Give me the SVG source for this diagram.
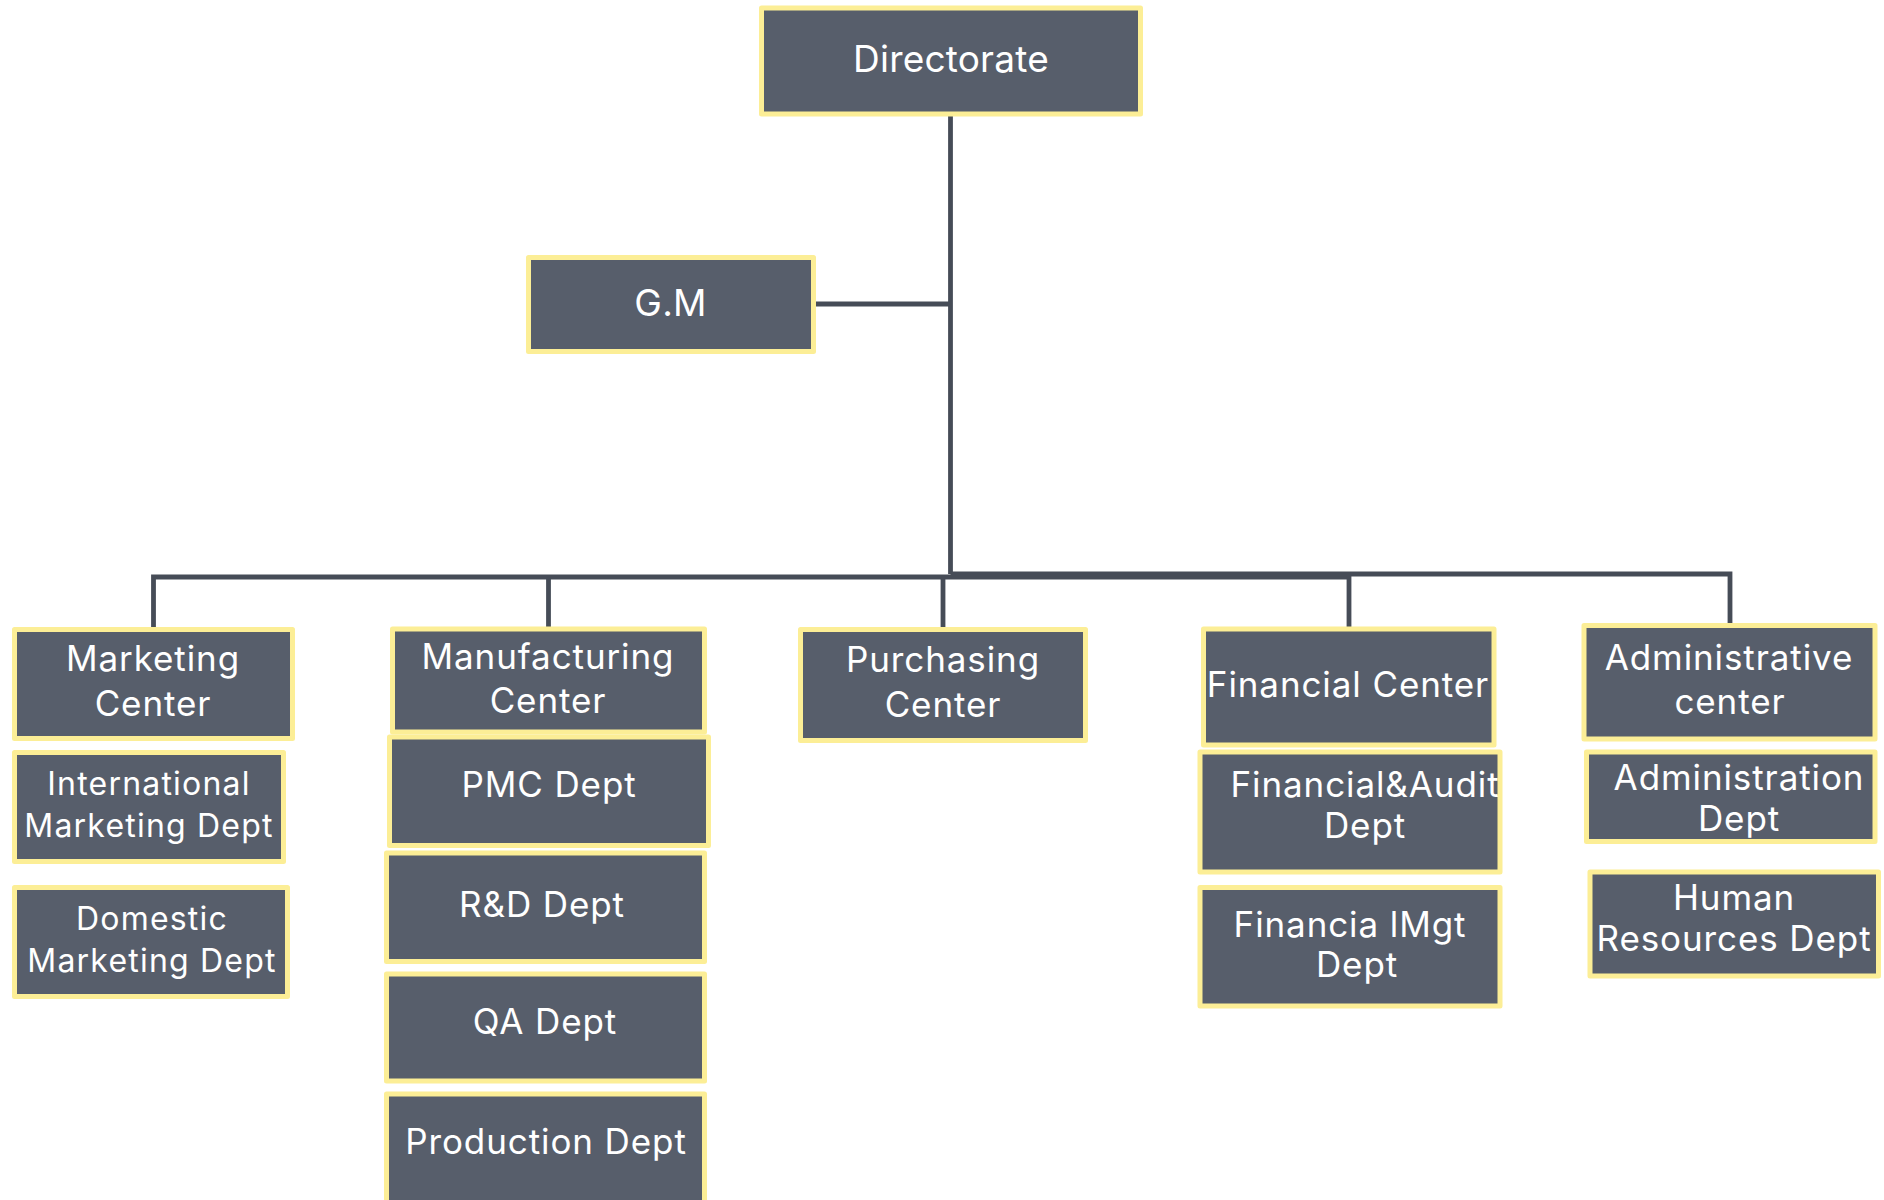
<svg xmlns="http://www.w3.org/2000/svg" width="1884" height="1200" viewBox="0 0 1884 1200">
<style>
.box{fill:#575E6B;stroke:#FCEE96;stroke-width:5;stroke-linejoin:round}
.lbl{fill:#FFFFFF;font-family:Inter,"Liberation Sans",sans-serif;font-size:35px;letter-spacing:0.9px;text-anchor:middle}
.big{font-size:37px;letter-spacing:0.2px}
.sm{font-size:32px;letter-spacing:1.2px}
.ln{fill:none;stroke:#464C57;stroke-width:4.8}
</style>
<rect width="1884" height="1200" fill="#FFFFFF"/>
<g id="connectors">
<path class="ln" d="M950.5 114 V574"/>
<path class="ln" d="M816 304 H950.5"/>
<path class="ln" d="M153.5 627 V577 H1349"/>
<path class="ln" d="M950.5 574 H1730 V624"/>
<path class="ln" d="M548.5 577 V627"/>
<path class="ln" d="M943 577 V627"/>
<path class="ln" d="M1349 574 V627"/>
</g>
<g id="directorate"><rect class="box" x="761.5" y="8" width="379" height="106"/><text class="lbl big" x="951" y="72">Directorate</text></g>
<g id="gm"><rect class="box" x="528.5" y="257.5" width="285" height="94"/><text class="lbl big" x="670.5" y="316">G.M</text></g>
<g id="marketing-center"><rect class="box" x="14.5" y="629.5" width="278" height="109"/><text class="lbl" x="153" y="671">Marketing</text><text class="lbl" x="153" y="716">Center</text></g>
<g id="intl-marketing"><rect class="box" x="14.5" y="752.5" width="269" height="109"/><text class="lbl sm" x="149" y="795">International</text><text class="lbl sm" x="149" y="837">Marketing Dept</text></g>
<g id="domestic-marketing"><rect class="box" x="14.5" y="887.5" width="273" height="109"/><text class="lbl sm" x="152" y="930">Domestic</text><text class="lbl sm" x="152" y="972">Marketing Dept</text></g>
<g id="manufacturing-center"><rect class="box" x="392.5" y="629" width="312" height="103"/><text class="lbl" x="548" y="669">Manufacturing</text><text class="lbl" x="548" y="713">Center</text></g>
<g id="pmc"><rect class="box" x="389.5" y="737" width="319" height="108.5"/><text class="lbl" x="549" y="797">PMC Dept</text></g>
<g id="rd"><rect class="box" x="386.5" y="853" width="318" height="108.5"/><text class="lbl" x="542" y="917">R&amp;D Dept</text></g>
<g id="qa"><rect class="box" x="386.5" y="974" width="318" height="107"/><text class="lbl" x="545" y="1034">QA Dept</text></g>
<g id="production"><rect class="box" x="386.5" y="1094" width="318" height="120"/><text class="lbl" x="546" y="1154">Production Dept</text></g>
<g id="purchasing-center"><rect class="box" x="800.5" y="629.5" width="285" height="111"/><text class="lbl" x="943" y="672">Purchasing</text><text class="lbl" x="943" y="717">Center</text></g>
<g id="financial-center"><rect class="box" x="1203.5" y="629" width="290.5" height="116"/><text class="lbl" x="1348" y="697">Financial Center</text></g>
<g id="financial-audit"><rect class="box" x="1200" y="752" width="300" height="120"/><text class="lbl" x="1365" y="797">Financial&amp;Audit</text><text class="lbl" x="1365" y="838">Dept</text></g>
<g id="financial-mgt"><rect class="box" x="1200" y="887.5" width="300" height="118.5"/><text class="lbl" x="1350" y="937">Financia lMgt</text><text class="lbl" x="1357" y="977">Dept</text></g>
<g id="administrative-center"><rect class="box" x="1584" y="625.5" width="291" height="113.5"/><text class="lbl" x="1729" y="670">Administrative</text><text class="lbl" x="1730" y="714">center</text></g>
<g id="administration"><rect class="box" x="1586.5" y="752" width="288.5" height="89.5"/><text class="lbl" x="1739" y="790">Administration</text><text class="lbl" x="1739" y="831">Dept</text></g>
<g id="human-resources"><rect class="box" x="1590" y="872" width="288.5" height="104"/><text class="lbl" x="1734" y="910">Human</text><text class="lbl" x="1734" y="951">Resources Dept</text></g>
</svg>
